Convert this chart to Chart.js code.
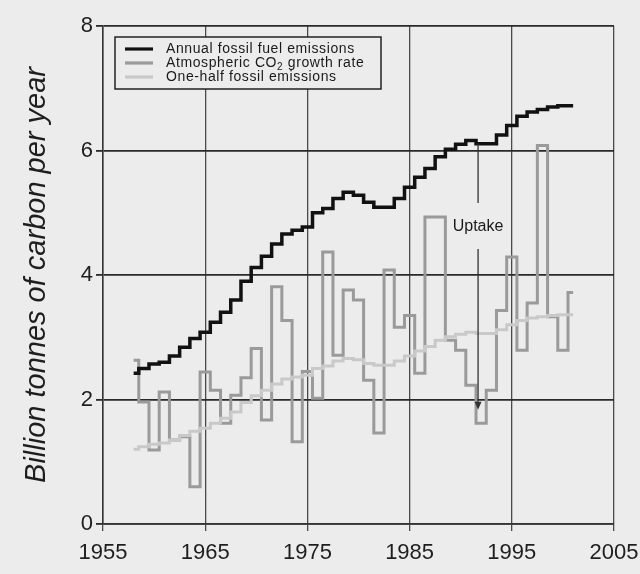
<!DOCTYPE html>
<html>
<head>
<meta charset="utf-8">
<script src="https://cdn.jsdelivr.net/npm/chart.js@4.4.1/dist/chart.umd.min.js"></script>
<style>
  html, body { margin: 0; padding: 0; background: #ececec; }
  #wrap { width: 640px; height: 574px; }
</style>
</head>
<body>
<div id="wrap"><canvas id="carbonChart" width="640" height="574"></canvas></div>
<script>
// Fossil emissions vs atmospheric CO2 growth, billion tonnes of carbon per year

const years = [1958, 1959, 1960, 1961, 1962, 1963, 1964, 1965, 1966, 1967,
  1968, 1969, 1970, 1971, 1972, 1973, 1974, 1975, 1976, 1977,
  1978, 1979, 1980, 1981, 1982, 1983, 1984, 1985, 1986, 1987,
  1988, 1989, 1990, 1991, 1992, 1993, 1994, 1995, 1996, 1997,
  1998, 1999, 2000, 2001];

const fossilEmissions = [2.42, 2.5, 2.57, 2.6, 2.7, 2.84, 2.98, 3.08, 3.24, 3.4,
  3.6, 3.9, 4.12, 4.3, 4.5, 4.66, 4.72, 4.77, 5.0, 5.07,
  5.23, 5.33, 5.28, 5.17, 5.09, 5.09, 5.23, 5.41, 5.57, 5.71,
  5.9, 6.02, 6.1, 6.16, 6.11, 6.11, 6.25, 6.4, 6.55, 6.62,
  6.66, 6.7, 6.72, 6.72];

const co2GrowthRate = [2.63, 1.96, 1.19, 2.12, 1.35, 1.4, 0.6, 2.44, 2.15, 1.62,
  2.07, 2.35, 2.82, 1.67, 3.81, 3.27, 1.32, 2.45, 2.02, 4.37,
  2.71, 3.76, 3.6, 2.31, 1.46, 4.08, 3.16, 3.35, 2.42, 4.93,
  4.93, 2.95, 2.79, 2.23, 1.62, 2.15, 3.43, 4.29, 2.79, 3.55,
  6.08, 3.33, 2.79, 3.72];

const halfFossil = [1.2, 1.24, 1.28, 1.3, 1.35, 1.42, 1.49, 1.54, 1.62, 1.7,
  1.8, 1.95, 2.06, 2.15, 2.25, 2.33, 2.36, 2.39, 2.5, 2.54,
  2.62, 2.66, 2.64, 2.58, 2.55, 2.55, 2.62, 2.7, 2.78, 2.85,
  2.95, 3.01, 3.05, 3.08, 3.06, 3.06, 3.12, 3.2, 3.27, 3.31,
  3.33, 3.35, 3.36, 3.36];

const xTicks = [1955, 1965, 1975, 1985, 1995, 2005];
const yTicks = [0, 2, 4, 6, 8];

const seriesLabels = ['Annual fossil fuel emissions', 'Atmospheric CO|2| growth rate', 'One-half fossil emissions'];
const seriesColors = ['#111111', '#9a9a9a', '#c9c9c9'];

const uptake = { year: 1991.7, top: 6.1, textAt: 4.77, bottom: 1.85, label: 'Uptake' };

const FONT = "'Liberation Sans', Arial, Helvetica, sans-serif";

function toPoints(values) {
  return years.map((y, i) => ({ x: y, y: values[i] }));
}

// legend box + uptake arrow, drawn on top of the plot
const overlayPlugin = {
  id: 'overlay',
  beforeDraw(chart) {
    const ctx = chart.ctx;
    ctx.save();
    ctx.fillStyle = '#ececec';
    ctx.fillRect(0, 0, chart.width, chart.height);
    ctx.restore();
  },
  afterDatasetsDraw(chart) {
    const ctx = chart.ctx;
    const xs = chart.scales.x;
    const ys = chart.scales.y;

    // Uptake annotation
    const ux = xs.getPixelForValue(uptake.year);
    const ty = ys.getPixelForValue(uptake.textAt);
    const by = ys.getPixelForValue(uptake.bottom);
    ctx.save();
    ctx.strokeStyle = '#333';
    ctx.lineWidth = 1.3;
    ctx.beginPath();
    ctx.moveTo(ux, ys.getPixelForValue(uptake.top));
    ctx.lineTo(ux, ty - 24);
    ctx.moveTo(ux, ty + 22);
    ctx.lineTo(ux, by - 4);
    ctx.stroke();
    ctx.fillStyle = '#333';
    ctx.beginPath();
    ctx.moveTo(ux - 3.5, by - 7);
    ctx.lineTo(ux + 3.5, by - 7);
    ctx.lineTo(ux, by + 1);
    ctx.closePath();
    ctx.fill();
    ctx.font = '16px ' + FONT;
    ctx.fillStyle = '#1a1a1a';
    ctx.textAlign = 'center';
    ctx.textBaseline = 'middle';
    ctx.fillText(uptake.label, ux, ty);
    ctx.restore();

    // Legend
    const left = 115, top = 37, w = 266, h = 52;
    ctx.save();
    ctx.fillStyle = '#ececec';
    ctx.fillRect(left, top, w, h);
    ctx.strokeStyle = '#222';
    ctx.lineWidth = 1.5;
    ctx.strokeRect(left, top, w, h);
    ctx.font = '14px ' + FONT;
    ctx.letterSpacing = '0.6px';
    ctx.textBaseline = 'middle';
    seriesLabels.forEach((label, i) => {
      const y = 49 + i * 14;
      ctx.strokeStyle = seriesColors[i];
      ctx.lineWidth = 3.2;
      ctx.beginPath();
      ctx.moveTo(125, y);
      ctx.lineTo(153, y);
      ctx.stroke();
      ctx.fillStyle = '#1a1a1a';
      let x = 166;
      label.split('|').forEach((part, k) => {
        if (k === 1) {
          ctx.font = '10px ' + FONT;
          ctx.fillText(part, x, y + 4);
          x += ctx.measureText(part).width;
          ctx.font = '14px ' + FONT;
        } else {
          ctx.fillText(part, x, y);
          x += ctx.measureText(part).width;
        }
      });
    });
    ctx.restore();
  }
};

new Chart(document.getElementById('carbonChart'), {
  type: 'line',
  data: {
    datasets: [
      {
        label: seriesLabels[0],
        data: toPoints(fossilEmissions),
        borderColor: seriesColors[0],
        borderWidth: 3.5,
        stepped: 'middle',
        pointRadius: 0
      },
      {
        label: seriesLabels[2],
        data: toPoints(halfFossil),
        borderColor: seriesColors[2],
        borderWidth: 3,
        stepped: 'middle',
        pointRadius: 0
      },
      {
        label: seriesLabels[1],
        data: toPoints(co2GrowthRate),
        borderColor: seriesColors[1],
        borderWidth: 3,
        stepped: 'middle',
        pointRadius: 0
      }
    ]
  },
  options: {
    responsive: false,
    animation: false,
    devicePixelRatio: 1,
    layout: { padding: { top: 26, right: 26, left: 0, bottom: 0 } },
    plugins: {
      legend: { display: false },
      tooltip: { enabled: false }
    },
    scales: {
      x: {
        type: 'linear',
        min: 1955,
        max: 2005,
        afterBuildTicks: s => { s.ticks = xTicks.map(v => ({ value: v })); },
        afterFit: s => { s.height = 50; s.paddingLeft = 0; s.paddingRight = 0; },
        ticks: {
          maxRotation: 0,
          autoSkip: false,
          padding: 9,
          color: '#1e1e1e',
          font: { family: FONT, size: 22 },
          callback: v => String(v)
        },
        grid: { color: '#4a4a4a', lineWidth: 1.3, tickLength: 7 },
        border: { color: '#333', width: 1.5 }
      },
      y: {
        min: 0,
        max: 8,
        afterBuildTicks: s => { s.ticks = yTicks.map(v => ({ value: v })); },
        afterFit: s => { s.width = 103; s.paddingTop = 0; s.paddingBottom = 0; },
        ticks: {
          padding: 3,
          color: '#1e1e1e',
          font: { family: FONT, size: 22 },
          callback: v => String(v)
        },
        grid: { color: '#2a2a2a', lineWidth: 1.8, tickLength: 7 },
        border: { color: '#333', width: 1.5 },
        title: {
          display: true,
          text: 'Billion tonnes of carbon per year',
          color: '#1e1e1e',
          font: { family: FONT, size: 29, style: 'italic' },
          padding: { top: 20, bottom: 0 }
        }
      }
    }
  },
  plugins: [overlayPlugin]
});
</script>
</body>
</html>
